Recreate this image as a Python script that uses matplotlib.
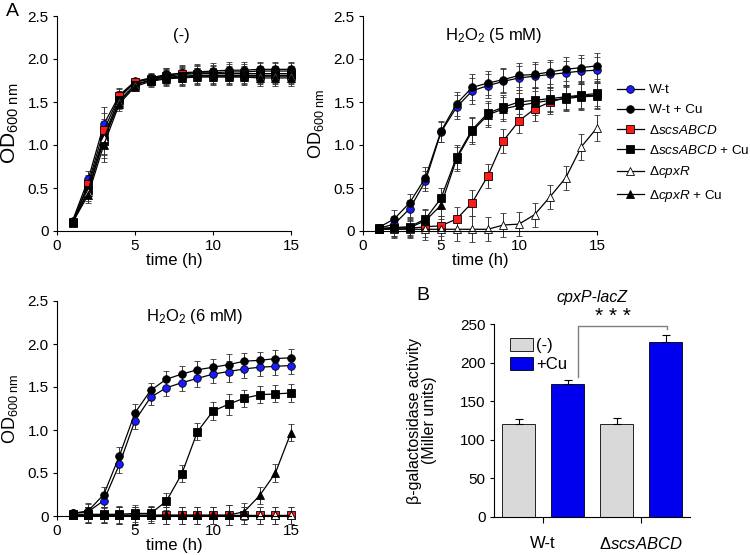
import matplotlib.pyplot as plt
from matplotlib.lines import Line2D
from matplotlib.patches import Patch

plt.rcParams['font.family'] = 'Liberation Sans'
plt.rcParams['mathtext.fontset'] = 'custom'
plt.rcParams['mathtext.rm'] = 'Liberation Sans'
plt.rcParams['mathtext.it'] = 'Liberation Sans:italic'

time_h = list(range(1, 16))

# panel (-) : no peroxide
none_wt = [0.12, 0.60, 1.24, 1.58, 1.74, 1.78, 1.82, 1.83, 1.84, 1.84, 1.85, 1.85, 1.86, 1.86, 1.86]
none_wt_cu = [0.11, 0.52, 1.10, 1.55, 1.73, 1.77, 1.81, 1.84, 1.85, 1.86, 1.87, 1.87, 1.88, 1.88, 1.88]
none_scs = [0.10, 0.55, 1.17, 1.57, 1.73, 1.77, 1.80, 1.82, 1.83, 1.83, 1.83, 1.83, 1.83, 1.83, 1.83]
none_scs_cu = [0.09, 0.48, 1.05, 1.52, 1.70, 1.76, 1.79, 1.80, 1.81, 1.81, 1.81, 1.81, 1.81, 1.81, 1.81]
none_cpx = [0.10, 0.45, 1.08, 1.50, 1.70, 1.75, 1.78, 1.79, 1.80, 1.80, 1.80, 1.80, 1.80, 1.80, 1.80]
none_cpx_cu = [0.10, 0.42, 1.00, 1.48, 1.68, 1.74, 1.77, 1.78, 1.79, 1.79, 1.79, 1.79, 1.78, 1.78, 1.78]
none_err = [0.03, 0.10, 0.20, 0.08, 0.04, 0.06, 0.08, 0.09, 0.09, 0.09, 0.09, 0.09, 0.09, 0.09, 0.09]

# panel H2O2 5 mM
h5_wt = [0.03, 0.08, 0.26, 0.58, 1.15, 1.44, 1.63, 1.69, 1.74, 1.78, 1.80, 1.82, 1.84, 1.86, 1.87]
h5_wt_cu = [0.04, 0.14, 0.33, 0.62, 1.16, 1.48, 1.67, 1.72, 1.76, 1.81, 1.82, 1.85, 1.88, 1.90, 1.92]
h5_scs = [0.02, 0.04, 0.03, 0.05, 0.06, 0.14, 0.33, 0.64, 1.05, 1.28, 1.42, 1.50, 1.55, 1.57, 1.58]
h5_scs_cu = [0.03, 0.04, 0.05, 0.14, 0.38, 0.86, 1.18, 1.37, 1.44, 1.50, 1.52, 1.54, 1.56, 1.58, 1.60]
h5_cpx = [0.02, 0.02, 0.02, 0.02, 0.02, 0.02, 0.02, 0.02, 0.07, 0.08, 0.19, 0.40, 0.62, 0.98, 1.20]
h5_cpx_cu = [0.02, 0.03, 0.04, 0.12, 0.30, 0.84, 1.16, 1.35, 1.42, 1.46, 1.49, 1.52, 1.54, 1.56, 1.57]
h5_err = [0.03, 0.10, 0.10, 0.12, 0.12, 0.14, 0.15, 0.14, 0.14, 0.14, 0.14, 0.14, 0.14, 0.15, 0.15]

# panel H2O2 6 mM
h6_wt = [0.03, 0.05, 0.18, 0.60, 1.11, 1.38, 1.49, 1.55, 1.60, 1.65, 1.68, 1.71, 1.73, 1.74, 1.75]
h6_wt_cu = [0.03, 0.06, 0.25, 0.70, 1.20, 1.46, 1.59, 1.65, 1.70, 1.73, 1.76, 1.80, 1.81, 1.83, 1.84]
h6_scs = [0.01, 0.01, 0.01, 0.01, 0.01, 0.01, 0.01, 0.01, 0.01, 0.01, 0.01, 0.01, 0.01, 0.01, 0.01]
h6_scs_cu = [0.02, 0.02, 0.02, 0.02, 0.03, 0.03, 0.17, 0.49, 0.98, 1.22, 1.30, 1.37, 1.41, 1.42, 1.43]
h6_cpx = [0.01, 0.01, 0.01, 0.01, 0.01, 0.01, 0.01, 0.01, 0.01, 0.01, 0.01, 0.01, 0.01, 0.01, 0.01]
h6_cpx_cu = [0.01, 0.01, 0.01, 0.01, 0.01, 0.01, 0.01, 0.01, 0.01, 0.01, 0.01, 0.05, 0.24, 0.50, 0.97]
h6_err = [0.03, 0.09, 0.09, 0.10, 0.10, 0.09, 0.10, 0.10, 0.10, 0.10, 0.12, 0.10, 0.10, 0.10, 0.10]

strain_labels = ['W-t', 'W-t + Cu', r'Δ$\mathit{scsABCD}$', r'Δ$\mathit{scsABCD}$ + Cu',
                 r'Δ$\mathit{cpxR}$', r'Δ$\mathit{cpxR}$ + Cu']
markers = ['o', 'o', 's', 's', '^', '^']
face_colors = ['#1a1aff', 'black', '#ff1a1a', 'black', 'white', 'black']

# panel B
bar_groups = ['W-t', r'Δ$\mathit{scsABCD}$']
bar_none = [120, 120]
bar_none_err = [7, 8]
bar_cu = [172, 227]
bar_cu_err = [6, 9]

fig = plt.figure(figsize=(7.5, 5.55), dpi=100)
W, H = 750, 555


def px_axes(x0, y0, x1, y1):
    return fig.add_axes([x0 / W, 1 - y1 / H, (x1 - x0) / W, (y1 - y0) / H])


def growth_panel(ax, series, err, title, title_xy, ylab_size):
    for ys, m, fc in zip(series, markers, face_colors):
        ax.errorbar(time_h, ys, yerr=err, color='black', lw=0.9, marker=m, ms=5.5,
                    mfc=fc, mec='black', mew=0.6, elinewidth=0.7, capsize=2.2,
                    capthick=0.7, ecolor='#333333', clip_on=False)
    ax.set_xlim(0, 15)
    ax.set_ylim(0, 2.5)
    ax.set_xticks([0, 5, 10, 15])
    ax.set_yticks([0, 0.5, 1.0, 1.5, 2.0, 2.5])
    ax.set_yticklabels(['0', '0.5', '1.0', '1.5', '2.0', '2.5'])
    for s in ['top', 'right']:
        ax.spines[s].set_visible(False)
    ax.tick_params(direction='out', length=3, labelsize=11, pad=3)
    ax.set_xlabel('time (h)', fontsize=12, labelpad=0)
    ax.set_ylabel(r'OD$_{\mathregular{600\ nm}}$', fontsize=ylab_size)
    ax.text(title_xy[0], title_xy[1], title, transform=ax.transAxes,
            ha='center', va='center', fontsize=12)


ax1 = px_axes(57, 16, 291, 231)
growth_panel(ax1, [none_wt, none_wt_cu, none_scs, none_scs_cu, none_cpx, none_cpx_cu],
             none_err, '(-)', (0.53, 0.91), 15)
ax1.yaxis.set_label_coords(-0.155, 0.5)

ax2 = px_axes(363, 16, 597, 231)
growth_panel(ax2, [h5_wt, h5_wt_cu, h5_scs, h5_scs_cu, h5_cpx, h5_cpx_cu],
             h5_err, r'H$_2$O$_2$ (5 mM)', (0.56, 0.91), 13)
ax2.yaxis.set_label_coords(-0.16, 0.5)

ax3 = px_axes(57, 301, 291, 516)
growth_panel(ax3, [h6_wt, h6_wt_cu, h6_scs, h6_scs_cu, h6_cpx, h6_cpx_cu],
             h6_err, r'H$_2$O$_2$ (6 mM)', (0.59, 0.93), 13)
ax3.yaxis.set_label_coords(-0.16, 0.5)

handles = [Line2D([], [], color='black', lw=0.9, marker=m, ms=5.5, mfc=fc, mec='black', mew=0.6)
           for m, fc in zip(markers, face_colors)]
fig.legend(handles, strain_labels, loc='upper left', bbox_to_anchor=(617 / W, 1 - 84 / H),
           frameon=False, fontsize=9.7, handlelength=2.0, handletextpad=0.35,
           labelspacing=0.55, borderpad=0, borderaxespad=0)

# bar chart
ax4 = px_axes(494, 324, 690, 517)
ax4.bar([0.5, 2.5], bar_none, width=0.68, color='#d9d9d9', edgecolor='black', lw=0.6,
        yerr=[[0, 0], bar_none_err], capsize=3, error_kw=dict(elinewidth=0.8, capthick=0.8))
ax4.bar([1.5, 3.5], bar_cu, width=0.68, color='#0000ee', edgecolor='black', lw=0.6,
        yerr=[[0, 0], bar_cu_err], capsize=3, error_kw=dict(elinewidth=0.8, capthick=0.8))
ax4.set_xlim(0, 4)
ax4.set_ylim(0, 250)
ax4.set_yticks([0, 50, 100, 150, 200, 250])
ax4.set_xticks([1, 3])
ax4.set_xticklabels(bar_groups, fontsize=12)
for s in ['top', 'right']:
    ax4.spines[s].set_visible(False)
ax4.tick_params(axis='y', direction='out', length=3, labelsize=11, pad=3)
ax4.tick_params(axis='x', direction='out', length=4, pad=10)
ax4.set_ylabel('β-galactosidase activity\n(Miller units)', fontsize=11.5, linespacing=1.0)
ax4.yaxis.set_label_coords(-0.29, 0.5)
ax4.set_title('cpxP-lacZ', fontstyle='italic', fontsize=11.5, pad=16)
ax4.legend([Patch(facecolor='#d9d9d9', edgecolor='black', lw=0.6),
            Patch(facecolor='#0000ee', edgecolor='black', lw=0.6)], ['(-)', '+Cu'],
           loc='upper left', bbox_to_anchor=(0.08, 0.93), frameon=False, fontsize=12,
           handlelength=1.4, handleheight=0.9, handletextpad=0.2, labelspacing=0.2,
           borderpad=0, borderaxespad=0)
ax4.plot([1.71, 1.71, 3.53, 3.53], [181, 247, 247, 243], color='#7f7f7f', lw=1, clip_on=False)
ax4.text(2.43, 247, '* * *', ha='center', va='bottom', fontsize=15, clip_on=False)

fig.text(12 / W, 1 - 12 / H, 'A', fontsize=14, ha='center', va='center')
fig.text(423 / W, 1 - 295 / H, 'B', fontsize=14, ha='center', va='center')

fig.savefig('out.png', dpi=100)
